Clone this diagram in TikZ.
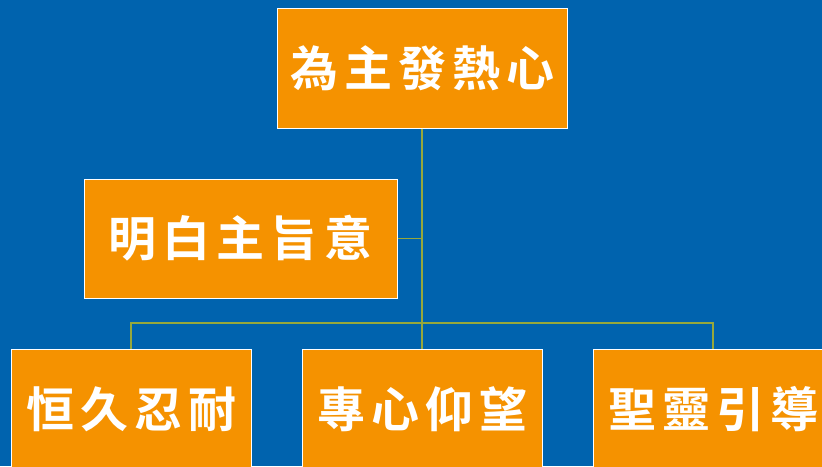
\documentclass[tikz,border=0pt]{standalone}
\usepackage{fontspec}
\newfontfamily\cjk{Noto Sans CJK TC Bold}
\definecolor{bgblue}{RGB}{0,99,174}
\definecolor{boxorange}{RGB}{245,146,0}
\definecolor{lineolive}{RGB}{150,168,60}
\newcommand\spc{\hspace{6pt}}
\begin{document}
\begin{tikzpicture}[x=1pt,y=-1pt,
  box/.style={draw=white, line width=1pt, fill=boxorange, inner sep=0pt,
    text=white, font=\cjk\fontsize{48}{52}\selectfont},
  conn/.style={draw=lineolive, line width=1.3pt}]
\useasboundingbox (0,0) rectangle (822,466);
\clip (0,0) rectangle (822,466);
\fill[bgblue] (0,0) rectangle (822,466);
\node[box, minimum width=290pt, minimum height=120pt] (top) at (422,68) {為\spc 主\spc 發\spc 熱\spc 心};
\node[box, minimum width=313pt, minimum height=119pt] (mid) at (240.5,238.5) {明\spc 白\spc 主\spc 旨\spc 意};
\node[box, minimum width=240pt, minimum height=120pt] (b1) at (131,409) {恒\spc 久\spc 忍\spc 耐};
\node[box, minimum width=240pt, minimum height=120pt] (b2) at (422,409) {專\spc 心\spc 仰\spc 望};
\node[box, minimum width=240pt, minimum height=120pt] (b3) at (713,409) {聖\spc 靈\spc 引\spc 導};
\coordinate (j) at (422,323);
\draw[conn] (top.south) -- (b2.north);
\draw[conn] (mid.east) -- (mid.east -| top.south);
\draw[conn] (b1.north) -- (b1.north |- j) -- (b3.north |- j) -- (b3.north);
\end{tikzpicture}
\end{document}
